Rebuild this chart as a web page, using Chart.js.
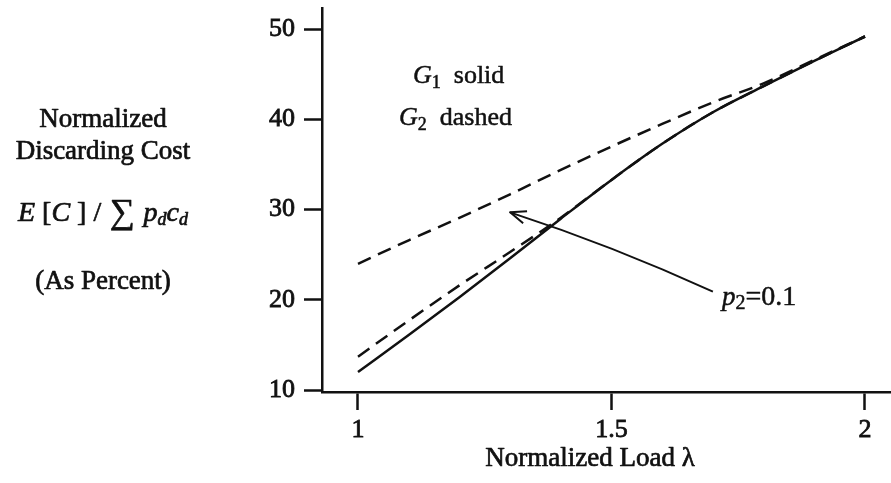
<!DOCTYPE html>
<html>
<head>
<meta charset="utf-8">
<script src="https://cdn.jsdelivr.net/npm/chart.js@4"></script>
<style>
  html, body { margin: 0; padding: 0; background: #fff; }
  canvas { display: block; }
</style>
</head>
<body>
<canvas id="chart" width="891" height="483"></canvas>
<script>
// values
const loads = [1, 1.1, 1.2, 1.3, 1.4, 1.5, 1.6, 1.7, 1.8, 1.9, 2];
const g1Low = [12.0, 16.1, 20.3, 24.6, 29.0, 33.3, 37.3, 40.8, 43.7, 46.5, 49.2];
const g2Low = [13.7, 17.7, 21.6, 25.3, 29.1, 33.3, 37.3, 40.8, 43.7, 46.5, 49.2];
const g2High = [24.0, 26.6, 29.1, 31.7, 34.4, 37.0, 39.5, 41.9, 44.0, 46.6, 49.2];
const xTicks = [1, 1.5, 2];
const yTicks = [10, 20, 30, 40, 50];
const arrowFrom = [1.70, 20.9];
const arrowTo = [1.30, 29.7];

const ink = '#111';
const serif = '"Liberation Serif", "DejaVu Serif", serif';

function pts(vals) {
  return loads.map((x, i) => ({ x: x, y: vals[i] }));
}

// text with a thin outline so it looks like the heavy print of the scan
function inkText(ctx, txt, x, y) {
  ctx.fillText(txt, x, y);
  ctx.strokeText(txt, x, y);
}

// draws a run of [text, style, sizeFactor, yShift] pieces starting at x
function drawPieces(ctx, pieces, x, y, size, align) {
  let total = 0;
  pieces.forEach(p => {
    ctx.font = (p[1] || '') + ' ' + Math.round(size * (p[2] || 1)) + 'px ' + serif;
    total += ctx.measureText(p[0]).width;
  });
  let cx = align == 'center' ? x - total / 2 : x;
  ctx.textAlign = 'left';
  pieces.forEach(p => {
    ctx.font = (p[1] || '') + ' ' + Math.round(size * (p[2] || 1)) + 'px ' + serif;
    inkText(ctx, p[0], cx, y + (p[3] || 0));
    cx += ctx.measureText(p[0]).width;
  });
}

const notes = {
  id: 'notes',
  afterDatasetsDraw(chart) {
    const ctx = chart.ctx;
    const xs = chart.scales.x, ys = chart.scales.y;
    ctx.save();
    ctx.fillStyle = ink;
    ctx.strokeStyle = ink;
    ctx.lineWidth = 0.7;
    ctx.lineJoin = 'round';
    ctx.textBaseline = 'alphabetic';

    // y axis caption, horizontal, left of the axis
    ctx.font = '27px ' + serif;
    ctx.textAlign = 'center';
    inkText(ctx, 'Normalized', 103, 127);
    inkText(ctx, 'Discarding Cost', 103, 159);
    drawPieces(ctx, [
      ['E', 'italic'], [' [', ''], ['C', 'italic'], [' ] ', ''], ['/', ''],
      [' \u2211 ', '', 1.25, 2], ['p', 'italic'], ['d', 'italic', 0.65, 4],
      ['c', 'italic'], ['d', 'italic', 0.65, 4]
    ], 103, 221, 28, 'center');
    ctx.font = '27px ' + serif;
    ctx.textAlign = 'center';
    inkText(ctx, '(As Percent)', 103, 289);

    // x axis caption
    inkText(ctx, 'Normalized Load \u03bb', 590, 466);

    // legend notes
    ctx.lineWidth = 0.5;
    drawPieces(ctx, [['G', 'italic'], ['1', '', 0.7, 5], ['  solid', '']], 413, 83, 26, 'left');
    drawPieces(ctx, [['G', 'italic'], ['2', '', 0.7, 5], ['  dashed', '']], 399, 125, 26, 'left');
    drawPieces(ctx, [['p', 'italic', 1.05], ['2', '', 0.75, 4], ['=0.1', '', 1.08]], 722, 305, 26, 'left');

    // arrow pointing at the p2 = 0.1 dashed curve
    const x0 = xs.getPixelForValue(arrowFrom[0]), y0 = ys.getPixelForValue(arrowFrom[1]);
    const x1 = xs.getPixelForValue(arrowTo[0]), y1 = ys.getPixelForValue(arrowTo[1]);
    const mx = (x0 + x1) / 2 + 2, my = (y0 + y1) / 2 - 6;
    ctx.lineWidth = 2;
    ctx.beginPath();
    ctx.moveTo(x0, y0);
    ctx.quadraticCurveTo(mx, my, x1, y1);
    ctx.stroke();
    const ang = Math.atan2(y1 - my, x1 - mx);
    ctx.beginPath();
    ctx.moveTo(x1 - 17 * Math.cos(ang - 0.38), y1 - 17 * Math.sin(ang - 0.38));
    ctx.lineTo(x1, y1);
    ctx.lineTo(x1 - 17 * Math.cos(ang + 0.38), y1 - 17 * Math.sin(ang + 0.38));
    ctx.stroke();
    ctx.restore();
  }
};

const axisGrid = {
  drawOnChartArea: false,
  drawTicks: true,
  tickLength: 18,
  tickWidth: 2.5,
  color: ink
};

const tickStyle = {
  color: ink,
  font: { family: serif, size: 26 },
  textStrokeColor: ink,
  textStrokeWidth: 0.8,
  autoSkip: false,
  callback: v => String(v)
};

new Chart(document.getElementById('chart'), {
  type: 'line',
  data: {
    datasets: [
      {
        label: 'G1',
        data: pts(g1Low),
        borderColor: ink,
        borderWidth: 2.5,
        pointRadius: 0,
        cubicInterpolationMode: 'monotone'
      },
      {
        label: 'G2',
        data: pts(g2Low),
        borderColor: ink,
        borderWidth: 2.5,
        borderDash: [14, 8],
        pointRadius: 0,
        cubicInterpolationMode: 'monotone'
      },
      {
        label: 'G2 p2=0.1',
        data: pts(g2High),
        borderColor: ink,
        borderWidth: 2.5,
        borderDash: [14, 8],
        pointRadius: 0,
        cubicInterpolationMode: 'monotone'
      }
    ]
  },
  options: {
    responsive: false,
    animation: false,
    layout: { padding: { top: 8, left: 0, right: 0, bottom: 0 } },
    plugins: { legend: { display: false }, tooltip: { enabled: false } },
    scales: {
      x: {
        type: 'linear',
        min: 0.929,
        max: 2.0513,
        afterBuildTicks: s => { s.ticks = xTicks.map(v => ({ value: v })); },
        afterFit: s => { s.height = 91; s.paddingLeft = 0; s.paddingRight = 0; },
        grid: axisGrid,
        border: { display: true, width: 2.5, color: ink },
        ticks: Object.assign({}, tickStyle, { padding: 5, maxRotation: 0 })
      },
      y: {
        type: 'linear',
        min: 9.78,
        max: 52.36,
        afterBuildTicks: s => { s.ticks = yTicks.map(v => ({ value: v })); },
        afterFit: s => { s.width = 322; s.paddingTop = 0; s.paddingBottom = 0; },
        grid: axisGrid,
        border: { display: true, width: 2.5, color: ink },
        ticks: Object.assign({}, tickStyle, { padding: 9 })
      }
    }
  },
  plugins: [notes]
});
</script>
</body>
</html>
